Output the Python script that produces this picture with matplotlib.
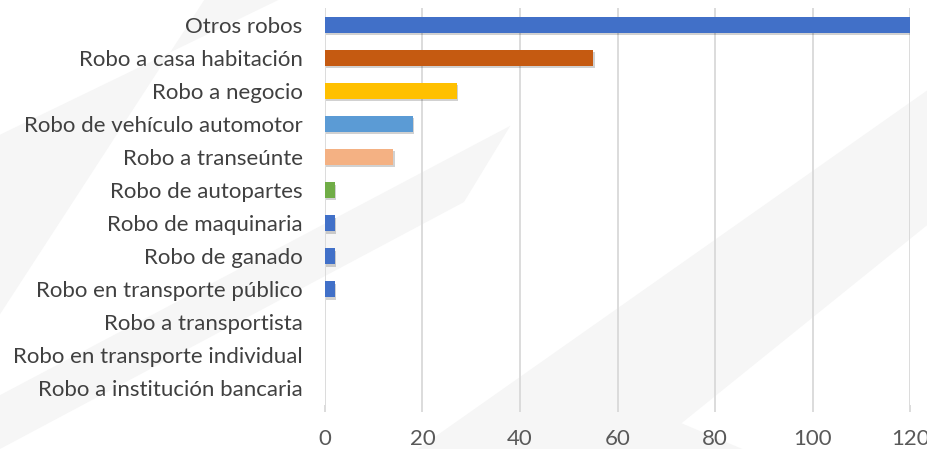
import matplotlib
matplotlib.use("Agg")
import matplotlib.pyplot as plt
import matplotlib.patheffects as pe
from matplotlib.patches import Polygon

categories = [
    "Otros robos",
    "Robo a casa habitación",
    "Robo a negocio",
    "Robo de vehículo automotor",
    "Robo a transeúnte",
    "Robo de autopartes",
    "Robo de maquinaria",
    "Robo de ganado",
    "Robo en transporte público",
    "Robo a transportista",
    "Robo en transporte individual",
    "Robo a institución bancaria",
]
values = [120, 55, 27, 18, 14, 2, 2, 2, 2, 0, 0, 0]
bar_colors = ["#4170C8", "#C55A11", "#FFC000", "#5B9BD5", "#F4B183", "#70AD47",
              "#4170C8", "#4170C8", "#4170C8", "#4170C8", "#4170C8", "#4170C8"]
xticks = [0, 20, 40, 60, 80, 100, 120]

fig = plt.figure(figsize=(9.28, 4.49), dpi=100)
fig.patch.set_facecolor("white")

# decorative diagonal background bands
bg = "#f6f6f6"
bands = [
    [(0, 0.30), (0, 0.70), (0.30, 1.0), (0.22, 1.0)],
    [(0.0, 0.0), (0.0, 0.12), (0.55, 0.72), (0.50, 0.55)],
    [(0.45, 0.0), (0.70, 0.0), (1.0, 0.50), (1.0, 0.80)],
    [(0.62, 0.0), (0.72, 0.07), (0.80, 0.0)],
]
for b in bands:
    fig.patches.append(Polygon(b, closed=True, transform=fig.transFigure,
                               facecolor=bg, edgecolor="none", zorder=-10))

ax = fig.add_axes([0.350, 0.098, 0.631, 0.884])
ax.set_facecolor("none")
y = list(range(len(categories)))
bars = ax.barh(y, values, height=0.48, color=bar_colors, zorder=3)
for b in bars:
    b.set_path_effects([pe.SimplePatchShadow(offset=(1.2, -1.8), shadow_rgbFace="#000000", alpha=0.18),
                        pe.Normal()])

ax.set_ylim(len(categories) - 0.5, -0.5)
ax.set_xlim(0, 120)
ax.set_yticks(y)
ax.set_yticklabels(categories)
ax.set_xticks(xticks)
ax.set_xticklabels([str(t) for t in xticks])

ax.grid(axis="x", color="#d9d9d9", linewidth=1.3, zorder=0)
ax.grid(axis="y", visible=False)
for s in ax.spines.values():
    s.set_visible(False)

ax.tick_params(axis="y", length=0, pad=16, labelsize=16, labelcolor="#404040")
ax.tick_params(axis="x", length=5, width=1.3, color="#d9d9d9", pad=12,
               labelsize=16, labelcolor="#595959")
for lab in ax.get_yticklabels() + ax.get_xticklabels():
    lab.set_fontfamily("Lato")

fig.savefig("out.png", dpi=100, facecolor=fig.get_facecolor())
